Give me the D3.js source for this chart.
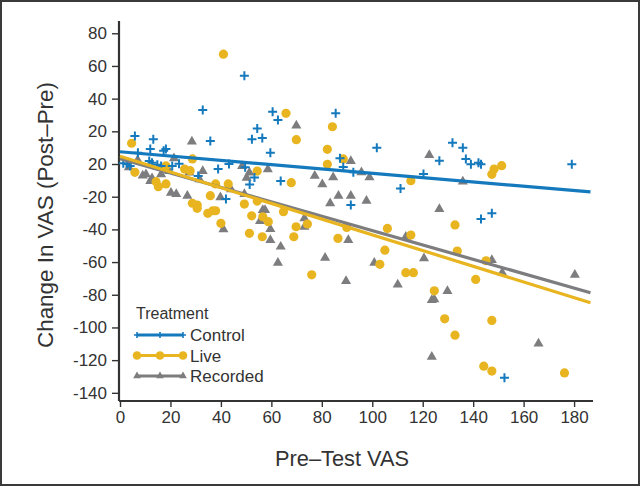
<!DOCTYPE html>
<html><head><meta charset="utf-8">
<script src="https://cdn.jsdelivr.net/npm/d3@7"></script>
<style>body{margin:0;background:#fff} svg{display:block}</style>
</head><body>
<script>
// ---- data ----
const controlX = [49.3,32.8,60.5,62.6,54.4,52.3,56.4,35.8,5.9,13.2,12,17.3,18.2,7.1,59.6,85.5,87.2,88.5,92.5,101.8,91.5,63.7,53.3,51.4,43.2,49.6,38.9,23.4,31,42,1.3,2.9,4,14.8,20.7,11.6,12.7,16.3,111.2,131.8,135.9,126.6,137.1,139.1,142.1,143.1,179.1,120.3,147.4,143.1,152.4];
const controlY = [54,33,32,27,21.8,15.1,15.9,14.1,17.1,15.1,9.2,8.1,9.2,6.9,6.9,31,3.5,-1.8,-5.1,10,-25.1,-10.4,-8.2,-12.5,0,-2,-3.1,0.2,-7.3,-21.4,0.4,0,-1.2,-0.4,-1.2,1.8,0.8,-1.2,-15,13,10,2,3.1,-0.2,0.8,-0.2,-0.2,-6.1,-30.2,-33.7,-130.8];
const liveX = [41,65.8,69.9,4.6,82.2,82.2,84.2,88.5,67.9,54.4,28.7,25.6,27.8,37.9,42.9,35.8,49.3,54.4,28.7,30.6,30.6,34.8,36.8,37.9,64.8,18.2,15.2,14.3,18.2,5.9,148.3,147.4,151.3,115.3,106,132.8,115.3,105,133.7,103,113.3,116.3,145.1,141,124.6,128.7,147.4,132.8,144.2,147.4,176.2,40,51.3,52.2,56.6,58.8,56.4,69.8,74.3,68.9,76,86.4,89.9];
const liveY = [67.2,31,14.9,12.7,9,-0.2,22.8,3.1,-11.4,-4.3,3.1,-3.1,-4.1,-12.2,-12.2,-19.4,-24.5,-22.7,-24,-25.1,-27.1,-30.2,-28.6,-28.6,-29.2,-12.2,-13.9,-10.8,-1.2,-5.1,-3.1,-6.3,-1,-10.2,-39.4,-37.3,-43.5,-52.7,-53.3,-61.4,-66.5,-66.5,-59.2,-70.6,-77.6,-94.7,-95.7,-104.7,-123.7,-126.7,-127.8,-36.3,-42.4,-31.7,-32.3,-35.3,-44.5,-38.4,-36.7,-44.5,-67.8,-45.5,-38.8];
const recordedX = [69.9,28.5,91.5,95.7,98.9,77.2,80.2,84.5,86.6,91.5,83.3,97.7,58.6,51.3,50.2,48.4,21.4,32.8,27.5,31.5,44,39.8,49.3,26.7,20.2,22.3,56.6,57.5,73.1,16.3,12,9,7,10.3,12.7,19.5,122.6,135.9,126.6,113.3,100.8,120.5,147.4,151.5,180.3,110.1,129.8,123.6,124.6,165.9,123.6,41,55.5,59.6,59.6,63.7,73.1,62.6,81.3,90.5,89.6,3.5];
const recordedY = [23.5,13.7,1.8,-5.1,-8.2,-7.3,-12.5,-8.2,-19.4,-19.4,-24.1,-22.5,-3.3,-5.3,-8.4,-1.2,3.5,-4.3,-5.3,-9.4,-15.5,-20.4,-18.4,-19.4,-17.6,-18.4,-28.2,-28.2,-33.3,-6.3,-10.4,-7.1,2.4,-6.3,-8.8,-4.3,5.5,-10.8,-27.6,-44.5,-60.4,-57.7,-58.8,-66.5,-67.8,-73.7,-77.8,-83.3,-82.8,-109.8,-118,-40,-34.9,-39.8,-46.5,-50.6,-38.4,-60.4,-57.4,-46.5,-71.6,-2];
const fitX = [0, 186.5];
const controlFit = [7.5, -17.1];
const liveFit = [4.7, -84.9];
const recordedFit = [3.3, -78.8];
const xTicks = [0,20,40,60,80,100,120,140,160,180];
const yTicks = [80,60,40,20,0,-20,-40,-60,-80,-100,-120,-140];
const yTickLabels = ["80","60","40","20","20","-20","-40","-60","-80","-100","-120","-140"];
const seriesNames = ["Control","Live","Recorded"];
const seriesColors = ["#1479bd","#e8b520","#7d7d7f"];

// ---- drawing ----
const W = 640, H = 486;
const svg = d3.select("body").append("svg").attr("width", W).attr("height", H);
svg.append("rect").attr("x",1).attr("y",1).attr("width",W-2).attr("height",H-2)
  .attr("fill","#fff").attr("stroke","#3a3a3a").attr("stroke-width",2);

const x = d3.scaleLinear().domain([0, 187.5]).range([120, 593]);
const y = d3.scaleLinear().domain([-145, 87.5]).range([401, 21]);
const font = "'Liberation Sans', Arial, sans-serif";
const ink = "#333";

// axes
const yAxis = d3.axisLeft(y).tickValues(yTicks).tickSize(7).tickPadding(5)
  .tickFormat((d,i) => yTickLabels[i]);
const gy = svg.append("g").attr("transform","translate(119,0)").call(yAxis);
const xAxis = d3.axisBottom(x).tickValues(xTicks).tickSize(6).tickPadding(4);
const gx = svg.append("g").attr("transform","translate(0,401)").call(xAxis);
[gx, gy].forEach(g => {
  g.select(".domain").attr("stroke", ink).attr("stroke-width", 2.2);
  g.selectAll(".tick line").attr("stroke", ink).attr("stroke-width", 1.4);
  g.selectAll(".tick text").attr("fill", ink).style("font-family", font).style("font-size","17px");
});
gx.select(".domain").attr("d", "M119,0H593");
gy.select(".domain").attr("d", "M0,401V21");

svg.append("text").attr("x", 342).attr("y", 466).attr("text-anchor","middle")
  .attr("fill", ink).style("font-family", font).style("font-size","22px")
  .attr("textLength", 134).attr("lengthAdjust","spacingAndGlyphs").text("Pre\u2013Test VAS");
svg.append("text").attr("transform","translate(53,215) rotate(-90)").attr("text-anchor","middle")
  .attr("fill", ink).style("font-family", font).style("font-size","22px")
  .attr("textLength", 266).attr("lengthAdjust","spacingAndGlyphs").text("Change In VAS (Post\u2013Pre)");

// markers
const plusPath = "M-4.5,0H4.5M0,-4.5V4.5";
const tri = d3.symbol().type(d3.symbolTriangle).size(44)();
function drawMarker(g, kind, px, py, color) {
  if (kind === 0) {
    g.append("path").attr("d", plusPath).attr("transform", `translate(${px},${py})`)
      .attr("stroke", color).attr("stroke-width", 2).attr("fill","none");
  } else if (kind === 1) {
    g.append("circle").attr("cx", px).attr("cy", py).attr("r", 4.6).attr("fill", color);
  } else {
    g.append("path").attr("d", tri).attr("transform", `translate(${px},${py})`).attr("fill", color);
  }
}
const pts = svg.append("g");
const sets = [[recordedX, recordedY, 2], [liveX, liveY, 1], [controlX, controlY, 0]];
sets.forEach(([xs, ys, k]) => xs.forEach((v, i) => drawMarker(pts, k, x(v), y(ys[i]), seriesColors[k])));

// fit lines
const fits = [controlFit, liveFit, recordedFit];
const line = d3.line().x(d => x(d[0])).y(d => y(d[1]));
[2,1,0].forEach(k => {
  svg.append("path").attr("d", line(fitX.map((v,i) => [v, fits[k][i]])))
    .attr("stroke", seriesColors[k]).attr("stroke-width", 3.2).attr("fill","none");
});

// legend
const lg = svg.append("g");
lg.append("text").attr("x", 136).attr("y", 319).attr("fill", ink)
  .style("font-family", font).style("font-size","16px").text("Treatment");
seriesNames.forEach((name, k) => {
  const ly = 335 + k * 20.5;
  lg.append("line").attr("x1", 137).attr("x2", 183).attr("y1", ly).attr("y2", ly)
    .attr("stroke", seriesColors[k]).attr("stroke-width", 3);
  [137, 160, 183].forEach(px => {
    if (k === 0) lg.append("path").attr("d","M-3,0H3M0,-3V3").attr("transform",`translate(${px},${ly})`)
      .attr("stroke", seriesColors[k]).attr("stroke-width",1.6);
    else if (k === 1) lg.append("circle").attr("cx", px).attr("cy", ly).attr("r", 4.3).attr("fill", seriesColors[k]);
    else lg.append("path").attr("d", d3.symbol().type(d3.symbolTriangle).size(26)()).attr("transform",`translate(${px},${ly})`).attr("fill", seriesColors[k]);
  });
  lg.append("text").attr("x", 190).attr("y", ly + 6).attr("fill", ink)
    .style("font-family", font).style("font-size","17px").text(name);
});
</script>
</body></html>
